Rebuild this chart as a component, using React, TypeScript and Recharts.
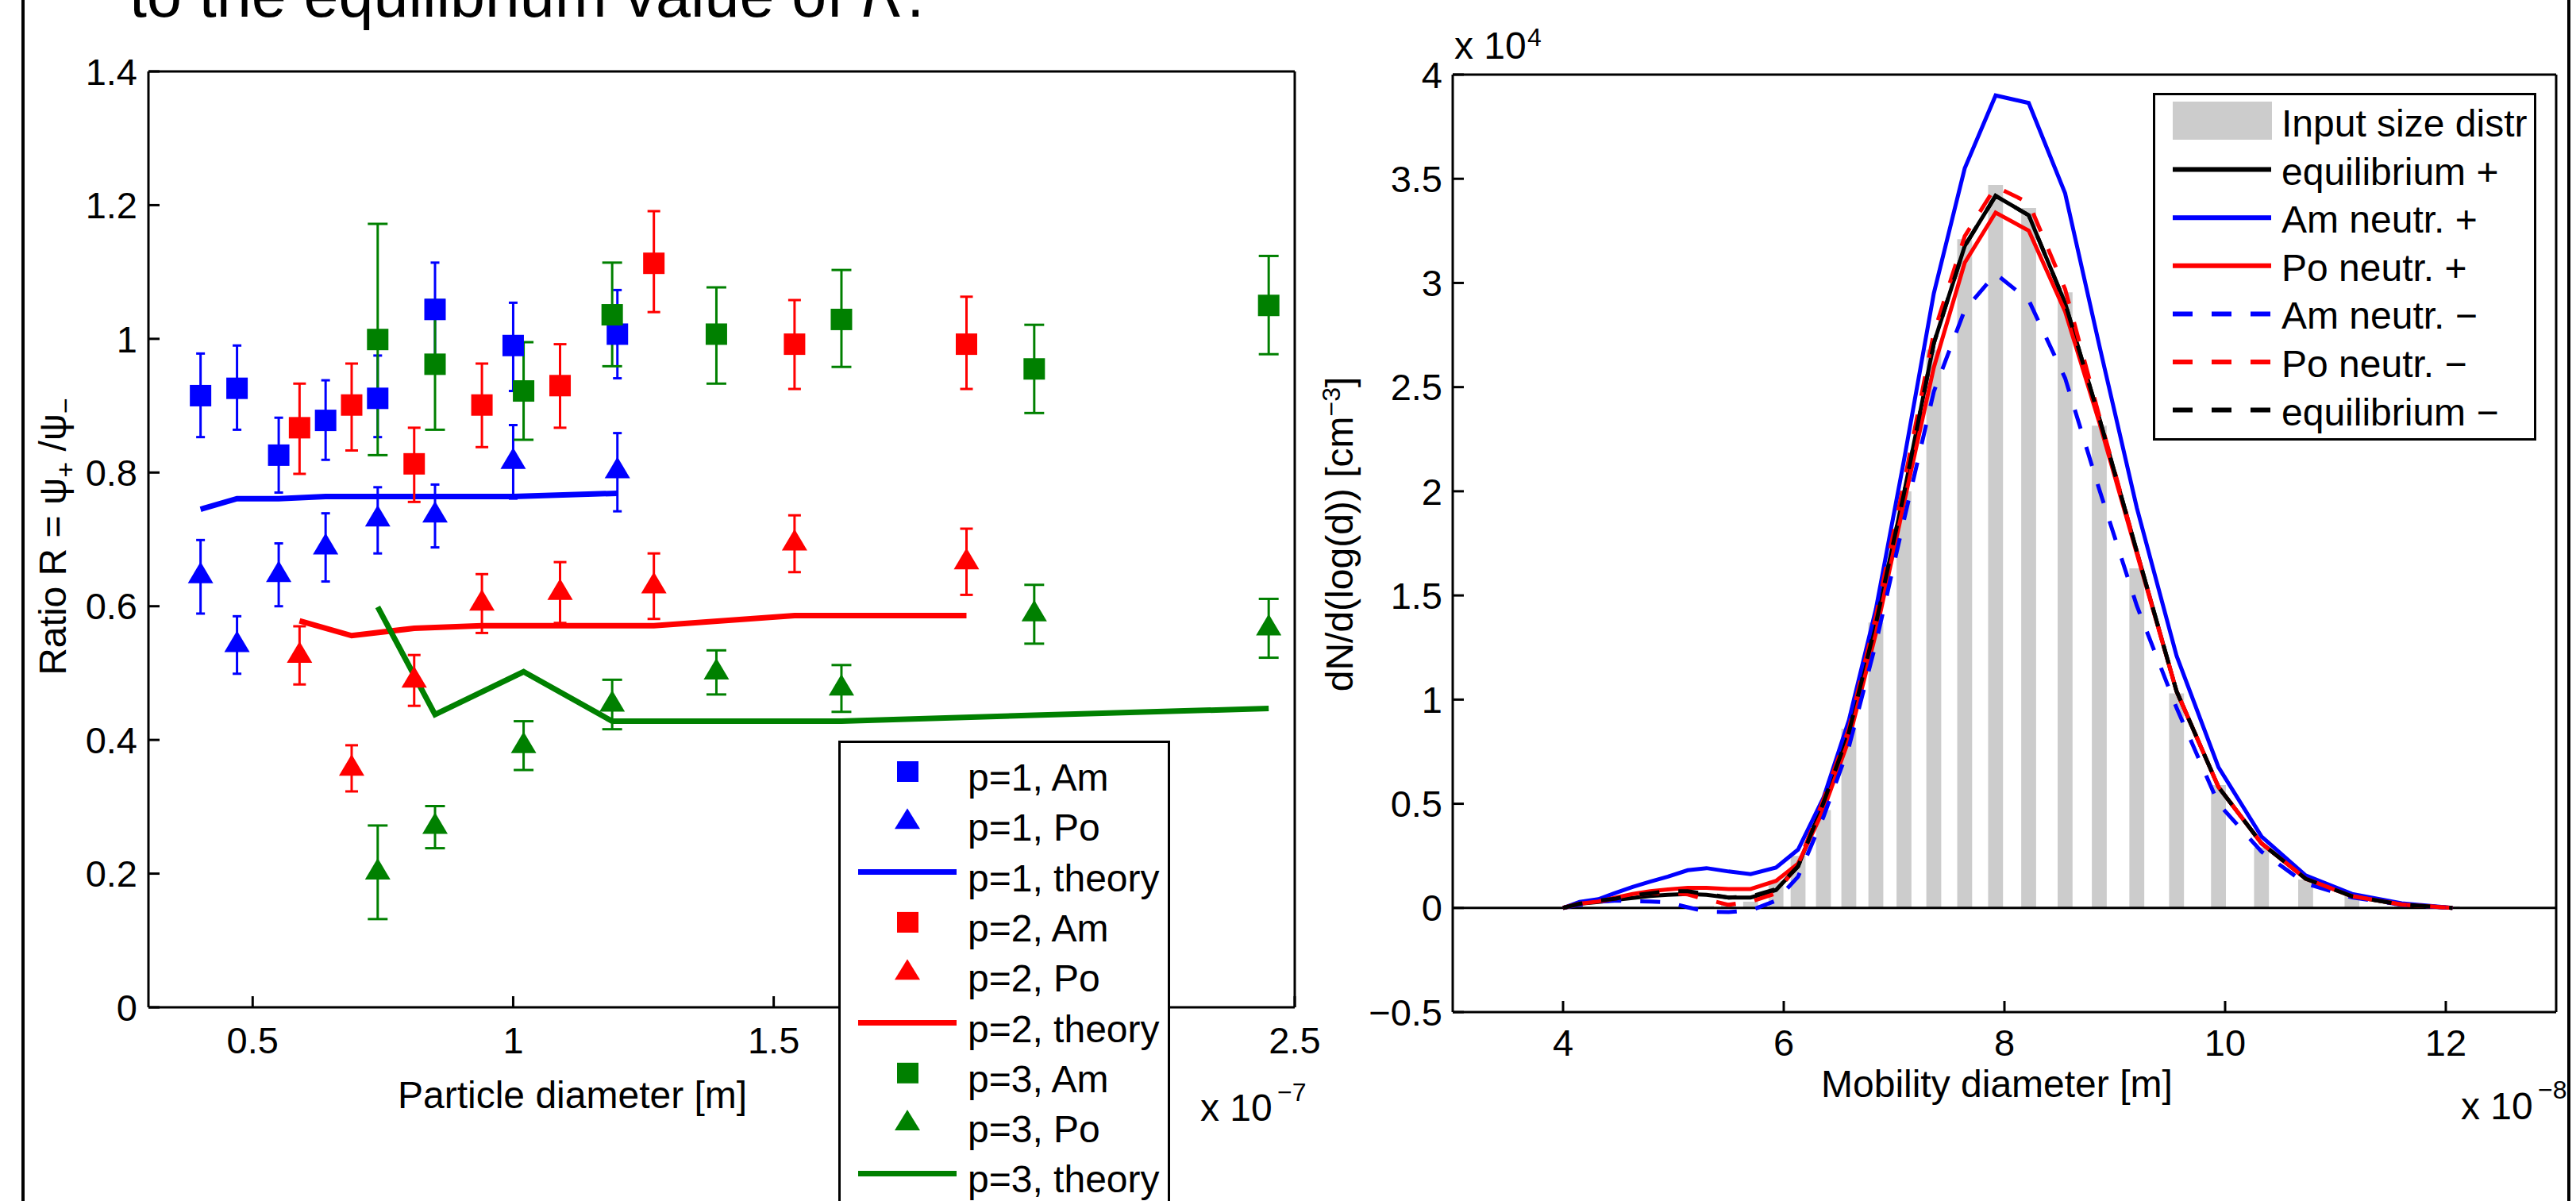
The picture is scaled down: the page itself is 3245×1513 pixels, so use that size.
import React from "react";
import {
  ComposedChart,
  Scatter,
  Line,
  Bar,
  XAxis,
  YAxis,
  ErrorBar,
  ReferenceLine,
} from "recharts";

const FONT = '"Liberation Sans", Arial, Helvetica, sans-serif';
const BLUE = "#0000ff";
const RED = "#ff0000";
const GREEN = "#008000";

// ---- left panel: ratio R vs particle diameter (x 1e-7 m) ----
const p1Diam = [0.4, 0.47, 0.55, 0.64, 0.74, 0.85, 1.0, 1.2];
const p1AmR = [0.915, 0.926, 0.826, 0.878, 0.911, 1.044, 0.99, 1.007];
const p1AmLo = [0.853, 0.864, 0.77, 0.819, 0.853, 0.974, 0.922, 0.941];
const p1AmHi = [0.978, 0.99, 0.882, 0.938, 0.975, 1.114, 1.054, 1.073];
const p1PoR = [0.645, 0.542, 0.647, 0.688, 0.73, 0.736, 0.816, 0.802];
const p1PoLo = [0.589, 0.499, 0.6, 0.637, 0.679, 0.688, 0.761, 0.742];
const p1PoHi = [0.699, 0.585, 0.694, 0.739, 0.778, 0.782, 0.871, 0.859];
const p1Theory = [0.745, 0.761, 0.761, 0.764, 0.764, 0.764, 0.764, 0.769];

const p2Diam = [0.59, 0.69, 0.81, 0.94, 1.09, 1.27, 1.54, 1.87];
const p2AmR = [0.867, 0.901, 0.813, 0.901, 0.93, 1.113, 0.992, 0.992];
const p2AmLo = [0.798, 0.833, 0.756, 0.838, 0.867, 1.04, 0.925, 0.925];
const p2AmHi = [0.933, 0.963, 0.867, 0.963, 0.992, 1.191, 1.058, 1.063];
const p2PoR = [0.526, 0.357, 0.489, 0.604, 0.62, 0.63, 0.694, 0.666];
const p2PoLo = [0.483, 0.323, 0.451, 0.56, 0.575, 0.581, 0.651, 0.617];
const p2PoHi = [0.57, 0.392, 0.527, 0.648, 0.666, 0.679, 0.736, 0.716];
const p2Theory = [0.578, 0.556, 0.567, 0.571, 0.571, 0.571, 0.586, 0.586];

const p3Diam = [0.74, 0.85, 1.02, 1.19, 1.39, 1.63, 2.0, 2.45];
const p3AmR = [0.999, 0.962, 0.922, 1.036, 1.007, 1.029, 0.955, 1.05];
const p3AmLo = [0.826, 0.864, 0.849, 0.959, 0.933, 0.958, 0.889, 0.977];
const p3AmHi = [1.172, 1.058, 0.995, 1.114, 1.077, 1.103, 1.021, 1.124];
const p3PoR = [0.202, 0.27, 0.391, 0.453, 0.501, 0.477, 0.588, 0.567];
const p3PoLo = [0.132, 0.238, 0.355, 0.416, 0.468, 0.442, 0.544, 0.523];
const p3PoHi = [0.272, 0.301, 0.428, 0.49, 0.534, 0.512, 0.632, 0.611];
const p3Theory = [0.599, 0.438, 0.502, 0.428, 0.428, 0.428, 0.437, 0.447];

// the "2" label sits under the legend, so the bottom axis leaves it out
const ratioXTicks = [0.5, 1, 1.5, 2.5];
const ratioTopTicks = [0.5, 1, 1.5, 2, 2.5];
const ratioYTicks = [0, 0.2, 0.4, 0.6, 0.8, 1, 1.2, 1.4];

// ---- right panel: size distribution (x 1e-8 m, y x 1e4 cm^-3) ----
const mobDiam = [
  4.0, 4.15, 4.32, 4.48, 4.63, 4.79, 4.95, 5.13, 5.3, 5.5, 5.7, 5.93, 6.13,
  6.36, 6.59, 6.835, 7.09, 7.36, 7.64, 7.92, 8.22, 8.55, 8.86, 9.2, 9.56, 9.94,
  10.33, 10.73, 11.15, 11.6, 12.06,
];
const inputDist = [
  0, 0, 0, 0, 0, 0, 0, 0, 0.01, 0.015, 0.03, 0.13, 0.25, 0.47, 0.86, 1.37, 2.0,
  2.68, 3.21, 3.47, 3.36, 2.955, 2.315, 1.63, 1.03, 0.59, 0.29, 0.136, 0.06,
  0.02, 0.008,
];
const eqPlus = [
  0, 0.02, 0.029, 0.039, 0.048, 0.057, 0.063, 0.067, 0.063, 0.05, 0.05, 0.086,
  0.2, 0.505, 0.842, 1.364, 1.99, 2.71, 3.177, 3.418, 3.325, 2.903, 2.35, 1.71,
  1.04, 0.58, 0.31, 0.143, 0.056, 0.016, 0,
];
const amPlus = [
  0, 0.029, 0.042, 0.073, 0.101, 0.126, 0.15, 0.181, 0.191, 0.175, 0.162, 0.194,
  0.28, 0.529, 0.9, 1.434, 2.15, 2.95, 3.55, 3.9, 3.864, 3.43, 2.7, 1.92, 1.21,
  0.675, 0.343, 0.156, 0.067, 0.022, 0,
];
const poPlus = [
  0, 0.02, 0.031, 0.05, 0.067, 0.08, 0.089, 0.096, 0.096, 0.091, 0.091, 0.13,
  0.213, 0.471, 0.807, 1.318, 1.944, 2.594, 3.097, 3.338, 3.251, 2.863, 2.33,
  1.7, 1.04, 0.58, 0.31, 0.14, 0.056, 0.016, 0,
];
const amMinus = [
  0, 0.015, 0.03, 0.035, 0.032, 0.031, 0.027, 0.003, -0.018, -0.02, -0.012,
  0.035, 0.15, 0.437, 0.772, 1.27, 1.863, 2.478, 2.87, 3.044, 2.917, 2.543,
  2.008, 1.45, 0.96, 0.5, 0.27, 0.117, 0.05, 0.015, 0,
];
const poMinus = [
  0, 0.02, 0.03, 0.046, 0.06, 0.07, 0.072, 0.065, 0.04, 0.015, 0.03, 0.07, 0.21,
  0.52, 0.86, 1.4, 2.04, 2.76, 3.224, 3.462, 3.385, 2.97, 2.36, 1.71, 1.04,
  0.58, 0.31, 0.14, 0.056, 0.016, 0,
];
const eqMinus = [
  0, 0.02, 0.035, 0.045, 0.06, 0.07, 0.08, 0.08, 0.067, 0.05, 0.055, 0.09, 0.2,
  0.505, 0.842, 1.364, 1.99, 2.71, 3.177, 3.418, 3.325, 2.903, 2.35, 1.71, 1.04,
  0.58, 0.31, 0.14, 0.056, 0.016, 0,
];

const sizeXTicks = [4, 6, 8, 10, 12];
const sizeYTicks = [-0.5, 0, 0.5, 1, 1.5, 2, 2.5, 3, 3.5, 4];

const points = (xs: number[], ys: number[], lo: number[], hi: number[]) =>
  xs.map((x, i) => ({ x, R: ys[i], err: [ys[i] - lo[i], hi[i] - ys[i]] }));
const curve = (xs: number[], ys: number[]) => xs.map((x, i) => ({ x, R: ys[i] }));

const sizeRows = mobDiam.map((d, i) => ({
  d,
  input: inputDist[i],
  eqP: eqPlus[i],
  amP: amPlus[i],
  poP: poPlus[i],
  amM: amMinus[i],
  poM: poMinus[i],
  eqM: eqMinus[i],
}));

const square = (color: string) => (p: any) =>
  <rect x={p.cx - 13.5} y={p.cy - 13.5} width={27} height={27} fill={color} />;
const triangle = (color: string) => (p: any) =>
  (
    <polygon
      points={`${p.cx},${p.cy - 18} ${p.cx + 16},${p.cy + 9} ${p.cx - 16},${p.cy + 9}`}
      fill={color}
    />
  );

const tickFont = { fontSize: 47, fill: "#000", fontFamily: FONT };
const axisStroke = { stroke: "#000", strokeWidth: 3 };
const fmtMinus = (v: number) => (v < 0 ? "\u2212" + Math.abs(v) : String(v));

// axes get 1px of room (0 makes recharts skip them), margins take the rest
function RatioChart() {
  const series = [
    { pts: points(p1Diam, p1AmR, p1AmLo, p1AmHi), shape: square(BLUE), color: BLUE, cap: 5.5 },
    { pts: points(p1Diam, p1PoR, p1PoLo, p1PoHi), shape: triangle(BLUE), color: BLUE, cap: 5.5 },
    { pts: points(p2Diam, p2AmR, p2AmLo, p2AmHi), shape: square(RED), color: RED, cap: 8 },
    { pts: points(p2Diam, p2PoR, p2PoLo, p2PoHi), shape: triangle(RED), color: RED, cap: 8 },
    { pts: points(p3Diam, p3AmR, p3AmLo, p3AmHi), shape: square(GREEN), color: GREEN, cap: 12.5 },
    { pts: points(p3Diam, p3PoR, p3PoLo, p3PoHi), shape: triangle(GREEN), color: GREEN, cap: 12.5 },
  ];
  const theory = [
    { pts: curve(p1Diam, p1Theory), color: BLUE },
    { pts: curve(p2Diam, p2Theory), color: RED },
    { pts: curve(p3Diam, p3Theory), color: GREEN },
  ];
  return (
    <ComposedChart width={1700} height={1513} margin={{ top: 89, right: 68, bottom: 243, left: 186 }}>
      <XAxis
        type="number"
        dataKey="x"
        domain={[0.3, 2.5]}
        ticks={ratioXTicks}
        allowDataOverflow
        height={1}
        tickSize={-14}
        tickMargin={39}
        tick={tickFont}
        axisLine={axisStroke}
        tickLine={axisStroke}
      />
      <XAxis
        xAxisId="top"
        orientation="top"
        type="number"
        domain={[0.3, 2.5]}
        ticks={ratioTopTicks}
        allowDataOverflow
        height={1}
        tickSize={-14}
        tick={false}
        axisLine={axisStroke}
        tickLine={axisStroke}
      />
      <YAxis
        type="number"
        domain={[0, 1.4]}
        ticks={ratioYTicks}
        allowDataOverflow
        width={1}
        tickSize={-14}
        tickMargin={28}
        tick={tickFont}
        axisLine={axisStroke}
        tickLine={axisStroke}
      />
      <YAxis
        yAxisId="right"
        orientation="right"
        type="number"
        domain={[0, 1.4]}
        ticks={ratioYTicks}
        allowDataOverflow
        width={1}
        tickSize={-14}
        tick={false}
        axisLine={axisStroke}
        tickLine={axisStroke}
      />
      {theory.map((t, i) => (
        <Line
          key={"t" + i}
          data={t.pts}
          dataKey="R"
          type="linear"
          stroke={t.color}
          strokeWidth={7}
          dot={false}
          isAnimationActive={false}
        />
      ))}
      {series.map((s, i) => (
        <Scatter key={"s" + i} data={s.pts} dataKey="R" shape={s.shape} isAnimationActive={false}>
          <ErrorBar
            dataKey="err"
            direction="y"
            width={s.cap}
            stroke={s.color}
            strokeWidth={3}
            isAnimationActive={false}
          />
        </Scatter>
      ))}
    </ComposedChart>
  );
}

function SizeChart() {
  return (
    <ComposedChart
      width={1545}
      height={1513}
      data={sizeRows}
      margin={{ top: 93, right: 24, bottom: 237, left: 129 }}
    >
      <XAxis
        type="number"
        dataKey="d"
        domain={[3, 13]}
        ticks={sizeXTicks}
        allowDataOverflow
        height={1}
        tickSize={-14}
        tickMargin={36}
        tick={tickFont}
        axisLine={axisStroke}
        tickLine={axisStroke}
      />
      <XAxis
        xAxisId="top"
        orientation="top"
        type="number"
        domain={[3, 13]}
        ticks={sizeXTicks}
        allowDataOverflow
        height={1}
        tickSize={-14}
        tick={false}
        axisLine={axisStroke}
        tickLine={axisStroke}
      />
      <YAxis
        type="number"
        domain={[-0.5, 4]}
        ticks={sizeYTicks}
        tickFormatter={fmtMinus}
        allowDataOverflow
        width={1}
        tickSize={-14}
        tickMargin={27}
        tick={tickFont}
        axisLine={axisStroke}
        tickLine={axisStroke}
      />
      <YAxis
        yAxisId="right"
        orientation="right"
        type="number"
        domain={[-0.5, 4]}
        ticks={sizeYTicks}
        allowDataOverflow
        width={1}
        tickSize={-14}
        tick={false}
        axisLine={axisStroke}
        tickLine={axisStroke}
      />
      <Bar dataKey="input" fill="#cccccc" barSize={22} isAnimationActive={false} />
      <ReferenceLine y={0} stroke="#000" strokeWidth={3} />
      <Line dataKey="eqP" type="linear" stroke="#000" strokeWidth={5} dot={false} isAnimationActive={false} />
      <Line dataKey="amP" type="linear" stroke={BLUE} strokeWidth={5} dot={false} isAnimationActive={false} />
      <Line dataKey="poP" type="linear" stroke={RED} strokeWidth={5} dot={false} isAnimationActive={false} />
      <Line dataKey="amM" type="linear" stroke={BLUE} strokeWidth={5} strokeDasharray="25 24" dot={false} isAnimationActive={false} />
      <Line dataKey="poM" type="linear" stroke={RED} strokeWidth={5} strokeDasharray="25 24" dot={false} isAnimationActive={false} />
      <Line dataKey="eqM" type="linear" stroke="#000" strokeWidth={5} strokeDasharray="25 24" dot={false} isAnimationActive={false} />
    </ComposedChart>
  );
}

const ratioLegend = [
  { kind: "square", color: BLUE, label: "p=1, Am" },
  { kind: "tri", color: BLUE, label: "p=1, Po" },
  { kind: "line", color: BLUE, label: "p=1, theory" },
  { kind: "square", color: RED, label: "p=2, Am" },
  { kind: "tri", color: RED, label: "p=2, Po" },
  { kind: "line", color: RED, label: "p=2, theory" },
  { kind: "square", color: GREEN, label: "p=3, Am" },
  { kind: "tri", color: GREEN, label: "p=3, Po" },
  { kind: "line", color: GREEN, label: "p=3, theory" },
];

const sizeLegend = [
  { kind: "patch", color: "#cccccc", dash: "", label: "Input size distr" },
  { kind: "line", color: "#000", dash: "", label: "equilibrium +" },
  { kind: "line", color: BLUE, dash: "", label: "Am neutr. +" },
  { kind: "line", color: RED, dash: "", label: "Po neutr. +" },
  { kind: "line", color: BLUE, dash: "25 24", label: "Am neutr. \u2212" },
  { kind: "line", color: RED, dash: "25 24", label: "Po neutr. \u2212" },
  { kind: "line", color: "#000", dash: "25 24", label: "equilibrium \u2212" },
];

function RatioLegend() {
  return (
    <svg
      width={418}
      height={620}
      style={{ position: "absolute", left: 1056, top: 933 }}
      fontFamily={FONT}
    >
      <rect x={1.5} y={1.5} width={415} height={640} fill="#fff" stroke="#000" strokeWidth={3} />
      {ratioLegend.map((r, i) => {
        const y = 39 + 63.3 * i;
        let mark;
        if (r.kind === "square") mark = <rect x={74} y={y - 13} width={27} height={26} fill={r.color} />;
        else if (r.kind === "tri")
          mark = <polygon points={`87,${y - 17} 103,${y + 9} 71,${y + 9}`} fill={r.color} />;
        else mark = <line x1={25} x2={149} y1={y} y2={y} stroke={r.color} strokeWidth={7} />;
        return (
          <g key={r.label}>
            {mark}
            <text x={163} y={y + 24} fontSize={48} fill="#000">
              {r.label}
            </text>
          </g>
        );
      })}
    </svg>
  );
}

function SizeLegend() {
  return (
    <svg
      width={483}
      height={438}
      style={{ position: "absolute", left: 2712, top: 117 }}
      fontFamily={FONT}
    >
      <rect x={1.5} y={1.5} width={480} height={435} fill="#fff" stroke="#000" strokeWidth={3} />
      {sizeLegend.map((r, i) => {
        const y = 36 + 60.6 * i;
        const mark =
          r.kind === "patch" ? (
            <rect x={25} y={y - 25} width={125} height={48} fill={r.color} />
          ) : (
            <line
              x1={25}
              x2={149}
              y1={y}
              y2={y}
              stroke={r.color}
              strokeWidth={6}
              strokeDasharray={r.dash || undefined}
            />
          );
        return (
          <g key={r.label}>
            {mark}
            <text x={162} y={y + 19} fontSize={48} fill="#000">
              {r.label}
            </text>
          </g>
        );
      })}
    </svg>
  );
}

function Annotations() {
  return (
    <svg
      width={3245}
      height={1513}
      style={{ position: "absolute", left: 0, top: 0, pointerEvents: "none" }}
      fontFamily={FONT}
      fill="#000"
    >
      <text x={163} y={21} fontSize={79}>
        to the equilibrium value of <tspan fontStyle="italic">R</tspan>.
      </text>

      {/* left panel labels */}
      <text transform="translate(83,676) rotate(-90)" textAnchor="middle" fontSize={48}>
        Ratio R = ψ<tspan dy={11} fontSize={34}>+</tspan>
        <tspan dy={-11}> /ψ</tspan>
        <tspan dy={11} fontSize={34}>{"\u2212"}</tspan>
      </text>
      <text x={501} y={1396} fontSize={48}>
        Particle diameter [m]
      </text>
      <text x={1512} y={1412} fontSize={48}>
        x 10
      </text>
      <text x={1609} y={1387} fontSize={32}>
        {"\u22127"}
      </text>

      {/* right panel labels */}
      <text x={1832} y={74} fontSize={48}>
        x 10
      </text>
      <text x={1924} y={58} fontSize={32}>
        4
      </text>
      <text transform="translate(1704,673) rotate(-90)" textAnchor="middle" fontSize={48}>
        dN/d(log(d)) [cm<tspan dy={-16} fontSize={32}>{"\u22123"}</tspan>
        <tspan dy={16}>]</tspan>
      </text>
      <text x={2294} y={1382} fontSize={48}>
        Mobility diameter [m]
      </text>
      <text x={3100} y={1410} fontSize={48}>
        x 10
      </text>
      <text x={3197} y={1384} fontSize={32}>
        {"\u22128"}
      </text>
    </svg>
  );
}

export default function App() {
  return (
    <div
      style={{
        position: "absolute",
        left: 0,
        top: 0,
        width: 3245,
        height: 1513,
        overflow: "hidden",
        background: "#fff",
        fontFamily: FONT,
      }}
    >
      <div style={{ position: "absolute", left: 0, top: 0 }}>
        <RatioChart />
      </div>
      <div style={{ position: "absolute", left: 1700, top: 0 }}>
        <SizeChart />
      </div>
      <Annotations />
      <RatioLegend />
      <SizeLegend />
      <div style={{ position: "absolute", left: 27, top: 0, width: 4, height: 1513, background: "#000" }} />
      <div style={{ position: "absolute", left: 3234, top: 0, width: 4, height: 1513, background: "#000" }} />
    </div>
  );
}
